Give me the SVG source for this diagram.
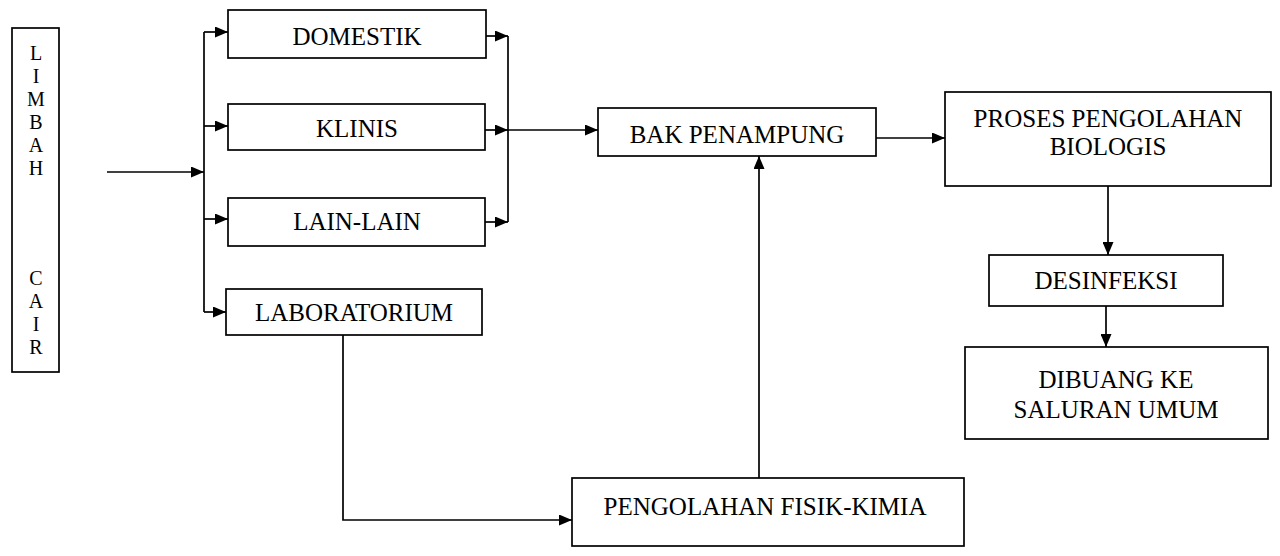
<svg xmlns="http://www.w3.org/2000/svg" width="1280" height="556" viewBox="0 0 1280 556">
<defs>
<marker id="ah" viewBox="0 0 13 11" refX="13" refY="5.5" markerWidth="13" markerHeight="11" markerUnits="userSpaceOnUse" orient="auto">
<path d="M0,0 L13,5.5 L0,11 Z" fill="#000"/>
</marker>
</defs>
<style>
.box{fill:#fff;stroke:#000;stroke-width:1.7}
.t{font-family:"Liberation Serif","Times New Roman",serif;font-size:25px;fill:#000;text-anchor:middle}
.v{font-family:"Liberation Serif","Times New Roman",serif;font-size:20px;fill:#000;text-anchor:middle}
.c{fill:none;stroke:#000;stroke-width:1.7}
</style>
<rect width="1280" height="556" fill="#fff"/>
<g id="connectors">
<path class="c" d="M107,172 H204" marker-end="url(#ah)"/>
<path class="c" d="M204,32 V312"/>
<path class="c" d="M204,32 H228" marker-end="url(#ah)"/>
<path class="c" d="M204,126 H228" marker-end="url(#ah)"/>
<path class="c" d="M204,219 H228" marker-end="url(#ah)"/>
<path class="c" d="M204,312 H226" marker-end="url(#ah)"/>
<path class="c" d="M508,36 V222"/>
<path class="c" d="M486,36 H508" marker-end="url(#ah)"/>
<path class="c" d="M485,130 H508" marker-end="url(#ah)"/>
<path class="c" d="M485,222 H508" marker-end="url(#ah)"/>
<path class="c" d="M508,130 H598" marker-end="url(#ah)"/>
<path class="c" d="M876,138 H945" marker-end="url(#ah)"/>
<path class="c" d="M1108,186 V255" marker-end="url(#ah)"/>
<path class="c" d="M1106,306 V347" marker-end="url(#ah)"/>
<path class="c" d="M343,335 V520 H572" marker-end="url(#ah)"/>
<path class="c" d="M759,478 V156" marker-end="url(#ah)"/>
</g>
<g id="limbah-cair">
<rect class="box" x="12" y="28" width="47" height="344"/>
<text class="v" x="36" y="60">L</text>
<text class="v" x="36" y="83">I</text>
<text class="v" x="36" y="106">M</text>
<text class="v" x="36" y="129">B</text>
<text class="v" x="36" y="152">A</text>
<text class="v" x="36" y="175">H</text>
<text class="v" x="36" y="285">C</text>
<text class="v" x="36" y="308">A</text>
<text class="v" x="36" y="331">I</text>
<text class="v" x="36" y="354">R</text>
</g>
<g id="domestik">
<rect class="box" x="228" y="10" width="258" height="48"/>
<text class="t" x="357" y="45">DOMESTIK</text>
</g>
<g id="klinis">
<rect class="box" x="228" y="104" width="257" height="46"/>
<text class="t" x="357" y="137">KLINIS</text>
</g>
<g id="lain-lain">
<rect class="box" x="228" y="198" width="257" height="48"/>
<text class="t" x="357" y="230">LAIN-LAIN</text>
</g>
<g id="laboratorium">
<rect class="box" x="226" y="289" width="256" height="46"/>
<text class="t" x="354" y="321">LABORATORIUM</text>
</g>
<g id="bak-penampung">
<rect class="box" x="598" y="108" width="278" height="48"/>
<text class="t" x="737" y="143">BAK PENAMPUNG</text>
</g>
<g id="proses-biologis">
<rect class="box" x="945" y="92" width="326" height="94"/>
<text class="t" x="1108" y="127">PROSES PENGOLAHAN</text>
<text class="t" x="1108" y="155">BIOLOGIS</text>
</g>
<g id="desinfeksi">
<rect class="box" x="989" y="255" width="234" height="51"/>
<text class="t" x="1106" y="289">DESINFEKSI</text>
</g>
<g id="dibuang">
<rect class="box" x="965" y="347" width="303" height="92"/>
<text class="t" x="1116" y="388">DIBUANG KE</text>
<text class="t" x="1116" y="418">SALURAN UMUM</text>
</g>
<g id="pengolahan-fisik-kimia">
<rect class="box" x="572" y="478" width="392" height="68"/>
<text class="t" x="765" y="515">PENGOLAHAN FISIK-KIMIA</text>
</g>
</svg>
